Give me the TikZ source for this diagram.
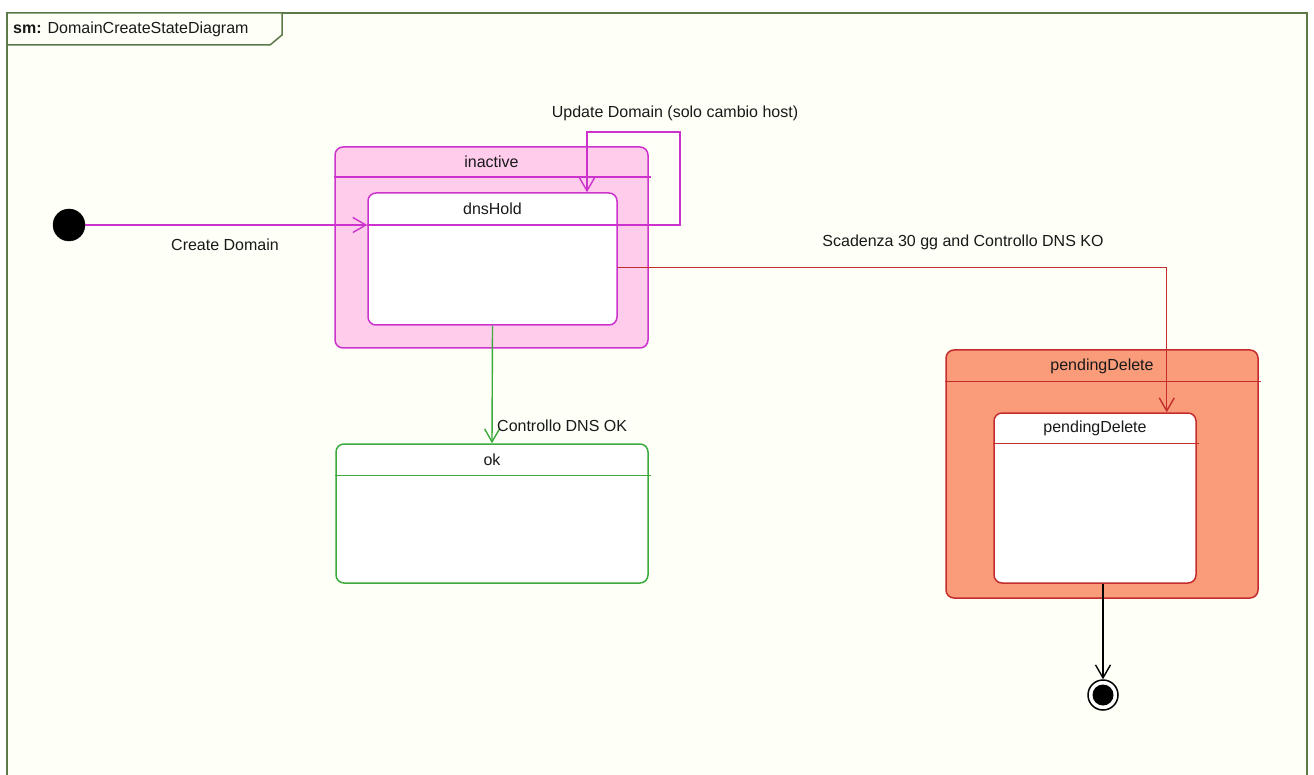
\documentclass[tikz,border=0pt]{standalone}
\usepackage{fontspec}
\setmainfont{Liberation Sans}
\usetikzlibrary{positioning,calc,arrows.meta}
\definecolor{framegreen}{RGB}{92,122,72}
\definecolor{framebg}{RGB}{254,255,247}
\definecolor{magline}{RGB}{204,51,204}
\definecolor{pinkfill}{RGB}{255,204,236}
\definecolor{redline}{RGB}{196,45,45}
\definecolor{salmon}{RGB}{250,155,122}
\definecolor{greenline}{RGB}{60,170,60}
\tikzset{
	state/.style={rectangle,rounded corners=8pt,draw,line width=1.5pt,inner sep=0pt},
	divider/.style={line width=1.5pt},
	inistate/.style={circle,fill=black,draw=black,minimum size=32pt,inner sep=0},
	finstate/.style={circle,fill=white,draw=black,line width=1.5pt,minimum size=30pt,inner sep=0},
	trans/.style={-{Straight Barb[length=13pt,width=15pt]},line width=1.4pt},
	tlabel/.style={font=\fontsize{16}{19}\selectfont, inner sep=0pt, text=black!90}
}
\begin{document}
\begin{tikzpicture}[x=1pt,y=-1pt]
\useasboundingbox (0,0) rectangle (1314,775);
%%%% frame
\fill[framebg] (7,13) rectangle (1307,775);
\draw[framegreen,line width=1.8pt] (7,775) -- (7,13) -- (1307,13) -- (1307,775);
\draw[framegreen,line width=1.5pt,fill=framebg] (7,13) -- (282,13) -- (282,35) -- (270,45) -- (7,45) -- cycle;
\node[tlabel,anchor=west] (frameTitle) at (13,29) {\textbf{sm:} DomainCreateStateDiagram};

%%%% inactive
\node[state,draw=magline,fill=pinkfill,minimum width=313pt,minimum height=201pt] (inactive) at (491.5,247.5) {};
\draw[divider,magline] ($(inactive.north west)+(0,31)$) -- ($(inactive.north east)+(2,31)$);
\node[tlabel] (inactiveTitle) at ($(inactive.north)+(0,16)$) {inactive};
\node[state,draw=magline,fill=white,minimum width=249pt,minimum height=132pt] (dnsHold) at (492.5,259) {};
\node[tlabel] (dnsHoldTitle) at ($(dnsHold.north)+(0,17)$) {dnsHold};

%%%% ok
\node[state,draw=greenline,fill=white,minimum width=312pt,minimum height=139pt] (ok) at (492,513.5) {};
\draw[divider,greenline] ($(ok.north west)+(0,32)$) -- ($(ok.north east)+(2,32)$);
\node[tlabel] (okTitle) at ($(ok.north)+(0,17)$) {ok};

%%%% pendingDelete
\node[state,draw=redline,fill=salmon,minimum width=312pt,minimum height=248pt] (pdOut) at (1102,474) {};
\draw[divider,redline] ($(pdOut.north west)+(0,32)$) -- ($(pdOut.north east)+(2,32)$);
\node[tlabel] (pdOutTitle) at ($(pdOut.north)+(0,17)$) {pendingDelete};
\node[state,draw=redline,fill=white,minimum width=202pt,minimum height=170pt] (pdIn) at (1095,498) {};
\draw[divider,redline] ($(pdIn.north west)+(0,31)$) -- ($(pdIn.north east)+(2,31)$);
\node[tlabel] (pdInTitle) at ($(pdIn.north)+(0,16)$) {pendingDelete};

%%%% initial / final
\node[inistate] (init) at (69,225) {};
\node[finstate] (final) at (1103,695) {};
\fill[black] (final) circle (10.5pt);

%%%% transitions
\draw[trans,magline] (init) -- (dnsHold.west |- init);
\node[tlabel] (createLbl) at (225,245) {Create Domain};

\coordinate (loopTurn) at (680,132);
\coordinate (loopIn) at (587,132);
\draw[trans,magline] (dnsHold.west |- init) -| (loopTurn) -- (loopIn) -- (loopIn |- dnsHold.north);
\node[tlabel] (updateLbl) at (675,113) {Update Domain (solo cambio host)};

\coordinate (redOut) at ($(dnsHold.north east)+(0,75)$);
\draw[trans,redline] (redOut) -| ($(pdIn.north east)+(-30,0)$);
\node[tlabel] (koLbl) at (963,242) {Scadenza 30 gg and Controllo DNS KO};

\draw[trans,greenline] (dnsHold.south) -- (ok.north);
\node[tlabel,anchor=west] (okLbl) at (497,426) {Controllo DNS OK};

\draw[trans,black] (final |- pdIn.south) -- (final.north);
\end{tikzpicture}
\end{document}
